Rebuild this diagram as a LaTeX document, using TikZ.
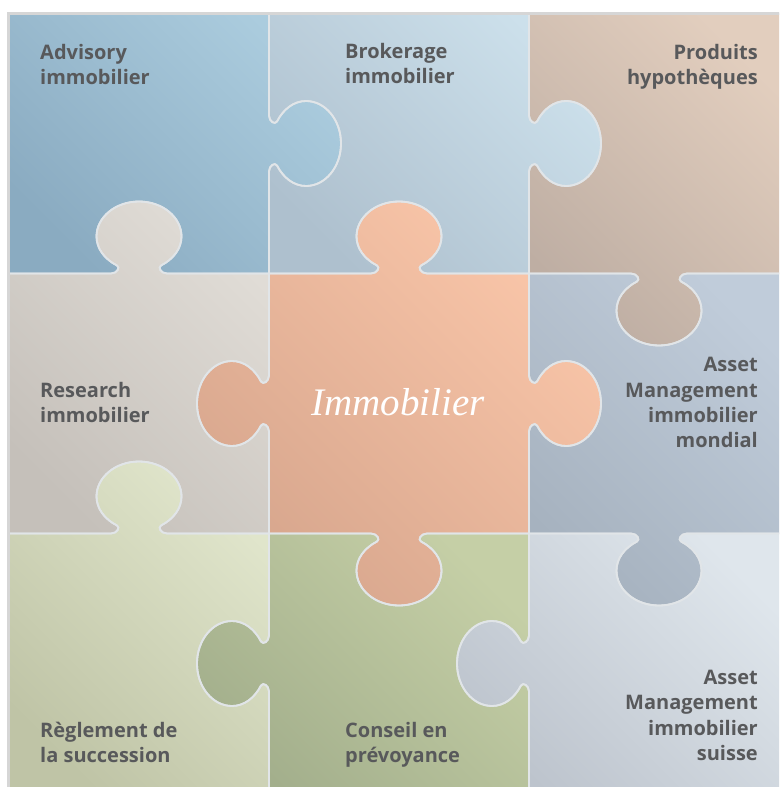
\documentclass[tikz,border=0pt]{standalone}
\usepackage{fontspec}
\setmainfont{Open Sans}
\newfontfamily\titlefont{Liberation Serif}

\definecolor{labelgray}{HTML}{58595B}
\definecolor{seam}{HTML}{E1E5E8}
\definecolor{frame}{HTML}{D6D6D6}
% piece colours: dark (lower left) / light (upper right)
\definecolor{advD}{HTML}{8AABC1}\definecolor{advL}{HTML}{ABCCDE}
\definecolor{broD}{HTML}{AEC0CE}\definecolor{broL}{HTML}{CCE0EB}
\definecolor{proD}{HTML}{BEAEA3}\definecolor{proL}{HTML}{E2CEBE}
\definecolor{resD}{HTML}{C5C0BA}\definecolor{resL}{HTML}{E0DCD6}
\definecolor{immD}{HTML}{D7A68D}\definecolor{immL}{HTML}{FAC6A9}
\definecolor{monD}{HTML}{A6B2BF}\definecolor{monL}{HTML}{C0CCDA}
\definecolor{regD}{HTML}{BFC4A6}\definecolor{regL}{HTML}{E0E5CB}
\definecolor{conD}{HTML}{A3AF8C}\definecolor{conL}{HTML}{C5CFA6}
\definecolor{suiD}{HTML}{BDC4CD}\definecolor{suiL}{HTML}{DFE6EC}

% one puzzle knob on an edge: u = direction of travel, v = direction of the bulge
\newcommand\knob[6]{{[cm={#1,#2,#3,#4,(#5,#6)}]
  -- (-28,0) .. controls (-22,0) and (-18.4,6.2) .. (-22,8)
  .. controls (-34.3,14.3) and (-42.5,24.8) .. (-42.5,37)
  .. controls (-42.5,56.3) and (-23.5,72) .. (0,72)
  .. controls (23.5,72) and (42.5,56.3) .. (42.5,37)
  .. controls (42.5,24.8) and (34.3,14.3) .. (22,8)
  .. controls (18.4,6.2) and (22,0) .. (28,0)}}

% outlines of the nine pieces, traced clockwise
\newcommand\pAdvisory{(9,-13.5) -- (269,-13.5) \knob{0}{-1}{1}{0}{269}{-143.5}
  -- (269,-273.5) \knob{-1}{0}{0}{1}{139}{-273.5} -- (9,-273.5) -- cycle}
\newcommand\pBrokerage{(269,-13.5) -- (529,-13.5) \knob{0}{-1}{1}{0}{529}{-143.5}
  -- (529,-273.5) \knob{-1}{0}{0}{1}{399}{-273.5} -- (269,-273.5)
  \knob{0}{1}{1}{0}{269}{-143.5} -- cycle}
\newcommand\pProduits{(529,-13.5) -- (789,-13.5) -- (789,-273.5)
  \knob{-1}{0}{0}{-1}{659}{-273.5} -- (529,-273.5)
  \knob{0}{1}{1}{0}{529}{-143.5} -- cycle}
\newcommand\pResearch{(9,-273.5) \knob{1}{0}{0}{1}{139}{-273.5} -- (269,-273.5)
  \knob{0}{-1}{-1}{0}{269}{-403.5} -- (269,-533.5)
  \knob{-1}{0}{0}{1}{139}{-533.5} -- (9,-533.5) -- cycle}
\newcommand\pImmo{(269,-273.5) \knob{1}{0}{0}{1}{399}{-273.5} -- (529,-273.5)
  \knob{0}{-1}{1}{0}{529}{-403.5} -- (529,-533.5)
  \knob{-1}{0}{0}{-1}{399}{-533.5} -- (269,-533.5)
  \knob{0}{1}{-1}{0}{269}{-403.5} -- cycle}
\newcommand\pMondial{(529,-273.5) \knob{1}{0}{0}{-1}{659}{-273.5} -- (789,-273.5)
  -- (789,-533.5) \knob{-1}{0}{0}{-1}{659}{-533.5} -- (529,-533.5)
  \knob{0}{1}{1}{0}{529}{-403.5} -- cycle}
\newcommand\pReglement{(9,-533.5) \knob{1}{0}{0}{1}{139}{-533.5} -- (269,-533.5)
  \knob{0}{-1}{-1}{0}{269}{-663.5} -- (269,-793.5) -- (9,-793.5) -- cycle}
\newcommand\pConseil{(269,-533.5) \knob{1}{0}{0}{-1}{399}{-533.5} -- (529,-533.5)
  \knob{0}{-1}{-1}{0}{529}{-663.5} -- (529,-793.5) -- (269,-793.5)
  \knob{0}{1}{-1}{0}{269}{-663.5} -- cycle}
\newcommand\pSuisse{(529,-533.5) \knob{1}{0}{0}{-1}{659}{-533.5} -- (789,-533.5)
  -- (789,-793.5) -- (529,-793.5) \knob{0}{1}{-1}{0}{529}{-663.5} -- cycle}

\newcommand\lblsize{\fontsize{20}{25.3}\selectfont}
\newcommand\lines[2]{\begin{tabular}[t]{@{}#1@{}}#2\end{tabular}}

\tikzset{
  % the diagonal angle goes after the colours, which reset it
  piece/.style 2 args={bottom color=#1, top color=#2, shading angle=-45},
  seamline/.style={draw=seam, line width=1.8pt, line join=round},
  lbl/.style={font=\lblsize\bfseries, text=labelgray, inner sep=0pt},
  lblL/.style={lbl, anchor=base west},
  lblR/.style={lbl, anchor=base east},
  title/.style={font=\titlefont\itshape\fontsize{39}{44}\selectfont,
    text=white, inner sep=0pt, anchor=base},
}

\begin{document}
\begin{tikzpicture}[x=1pt, y=1pt]
  \useasboundingbox[fill=white] (0,0) rectangle (779,-787);
  \begin{scope}
    \clip (0,0) rectangle (779,-787);
    % coloured pieces
    \shade[piece={advD}{advL}] \pAdvisory;
    \shade[piece={broD}{broL}] \pBrokerage;
    \shade[piece={proD}{proL}] \pProduits;
    \shade[piece={resD}{resL}] \pResearch;
    \shade[piece={immD}{immL}] \pImmo;
    \shade[piece={monD}{monL}] \pMondial;
    \shade[piece={regD}{regL}] \pReglement;
    \shade[piece={conD}{conL}] \pConseil;
    \shade[piece={suiD}{suiL}] \pSuisse;
    % seams between the pieces
    \path[seamline] \pAdvisory;
    \path[seamline] \pBrokerage;
    \path[seamline] \pProduits;
    \path[seamline] \pResearch;
    \path[seamline] \pImmo;
    \path[seamline] \pMondial;
    \path[seamline] \pReglement;
    \path[seamline] \pConseil;
    \path[seamline] \pSuisse;
    % outer frame
    \draw[frame, line width=3pt] (8.5,-13) rectangle (789,-793.5);
  \end{scope}

  % labels
  \node[lblL] (advisory) at (40,-59) {\lines{l}{Advisory\\immobilier}};
  \node[lblL] (brokerage) at (345,-58.5) {\lines{l}{Brokerage\\immobilier}};
  \node[lblR] (produits) at (758,-59) {\lines{r}{Produits\\hypothèques}};
  \node[lblL] (research) at (40,-397.5) {\lines{l}{Research\\immobilier}};
  \node[lblR] (mondial) at (758,-371.8) {\lines{r}{Asset\\Management\\immobilier\\mondial}};
  \node[lblL] (reglement) at (40,-737) {\lines{l}{Règlement de\\la succession}};
  \node[lblL] (conseil) at (345,-737.3) {\lines{l}{Conseil en\\prévoyance}};
  \node[lblR] (suisse) at (758,-684.5) {\lines{r}{Asset\\Management\\immobilier\\suisse}};
  \node[title] (immobilier) at (398,-415) {Immobilier};
\end{tikzpicture}
\end{document}
